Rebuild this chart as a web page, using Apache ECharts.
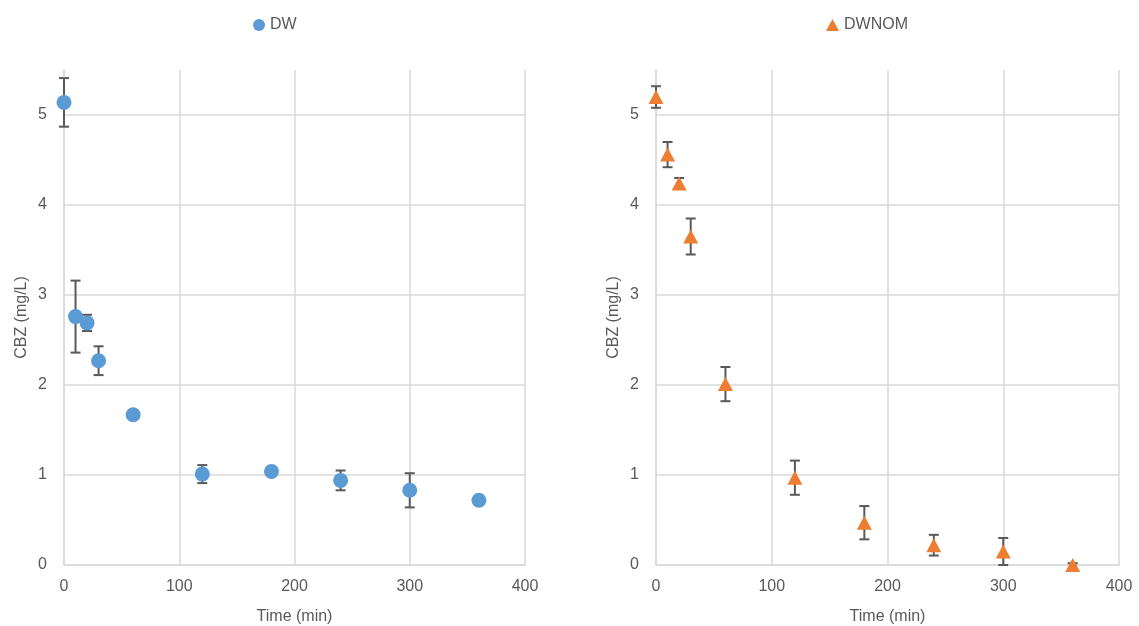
<!DOCTYPE html>
<html><head><meta charset="utf-8">
<script src="https://cdn.jsdelivr.net/npm/echarts@6/dist/echarts.min.js"></script>
<style>html,body{margin:0;padding:0;background:#fff}#c{width:1139px;height:626px}</style>
</head><body><div id="c"></div>
<script>
const times = [0, 10, 20, 30, 60, 120, 180, 240, 300, 360];
const dwMean = [5.14, 2.76, 2.69, 2.27, 1.67, 1.01, 1.04, 0.94, 0.83, 0.72];
const dwErr  = [0.27, 0.40, 0.09, 0.16, 0.05, 0.10, 0.02, 0.11, 0.19, 0.02];
const nomMean = [5.20, 4.56, 4.24, 3.65, 2.01, 0.97, 0.47, 0.22, 0.15, 0.00];
const nomErr  = [0.12, 0.14, 0.06, 0.20, 0.19, 0.19, 0.185, 0.115, 0.15, 0.02];
const xTicks = [0, 100, 200, 300, 400];
const yTicks = [0, 1, 2, 3, 4, 5];

const txt = '#595959', gridC = '#d9d9d9', barC = '#595959';
const fontF = 'Liberation Sans, Arial, sans-serif';

function xAxis(idx) {
  return {
    type: 'value', gridIndex: idx, min: 0, max: 400, interval: 100,
    name: 'Time (min)', nameLocation: 'middle', nameGap: 44,
    nameTextStyle: { color: txt, fontSize: 16, fontFamily: fontF },
    axisLine: { show: true, lineStyle: { color: gridC, width: 1.5 } },
    axisTick: { show: false },
    axisLabel: { color: txt, fontSize: 16, fontFamily: fontF, margin: 14 },
    splitLine: { show: true, lineStyle: { color: gridC, width: 1.5 } }
  };
}
function yAxis(idx) {
  return {
    type: 'value', gridIndex: idx, min: 0, max: 5.5, interval: 1,
    name: 'CBZ (mg/L)', nameLocation: 'middle', nameGap: 34, nameRotate: 90,
    nameTextStyle: { color: txt, fontSize: 16, fontFamily: fontF },
    axisLine: { show: true, lineStyle: { color: gridC, width: 1.5 } },
    axisTick: { show: false },
    axisLabel: { color: txt, fontSize: 16, fontFamily: fontF, margin: 17,
      showMaxLabel: false, formatter: v => (yTicks.includes(v) ? String(v) : '') },
    splitLine: { show: true, showMaxLine: false, lineStyle: { color: gridC, width: 1.5 } }
  };
}
function errSeries(idx, mean, err) {
  return {
    type: 'custom', xAxisIndex: idx, yAxisIndex: idx, z: 1, silent: true, clip: false,
    data: times.map((t, i) => [t, mean[i] - err[i], mean[i] + err[i]]),
    renderItem: (params, api) => {
      const lo = api.coord([api.value(0), api.value(1)]);
      const hi = api.coord([api.value(0), api.value(2)]);
      const base = api.coord([0, 0])[1];
      const yb = Math.min(lo[1], base);
      const w = 5;
      const st = { stroke: barC, lineWidth: 2 };
      return { type: 'group', children: [
        { type: 'line', shape: { x1: hi[0], y1: hi[1], x2: hi[0], y2: yb }, style: st },
        { type: 'line', shape: { x1: hi[0] - w, y1: hi[1], x2: hi[0] + w, y2: hi[1] }, style: st },
        { type: 'line', shape: { x1: lo[0] - w, y1: lo[1], x2: lo[0] + w, y2: lo[1] }, style: st, invisible: lo[1] > base }
      ]};
    }
  };
}

const chart = echarts.init(document.getElementById('c'), null, { renderer: 'canvas' });
chart.setOption({
  animation: false,
  textStyle: { fontFamily: fontF },
  legend: [
    { data: ['DW'], left: 248, top: 12, itemWidth: 12, itemHeight: 12, itemGap: 4,
      textStyle: { color: txt, fontSize: 16, fontFamily: fontF } },
    { data: ['DWNOM'], left: 821, top: 12, itemWidth: 13, itemHeight: 12, itemGap: 4,
      textStyle: { color: txt, fontSize: 16, fontFamily: fontF } }
  ],
  grid: [
    { left: 64, top: 70, width: 461, height: 495, outerBoundsMode: 'none', containLabel: false },
    { left: 656, top: 70, width: 463, height: 495, outerBoundsMode: 'none', containLabel: false }
  ],
  xAxis: [xAxis(0), xAxis(1)],
  yAxis: [yAxis(0), yAxis(1)],
  series: [
    errSeries(0, dwMean, dwErr),
    errSeries(1, nomMean, nomErr),
    { name: 'DW', type: 'scatter', xAxisIndex: 0, yAxisIndex: 0, z: 3, clip: false,
      symbol: 'circle', symbolSize: 15, itemStyle: { color: '#5B9BD5', opacity: 1 },
      data: times.map((t, i) => [t, dwMean[i]]) },
    { name: 'DWNOM', type: 'scatter', xAxisIndex: 1, yAxisIndex: 1, z: 3, clip: false,
      symbol: 'triangle', symbolSize: [15, 14], itemStyle: { color: '#ED7D31', opacity: 1 },
      data: times.map((t, i) => [t, nomMean[i]]) }
  ]
});
</script></body></html>
